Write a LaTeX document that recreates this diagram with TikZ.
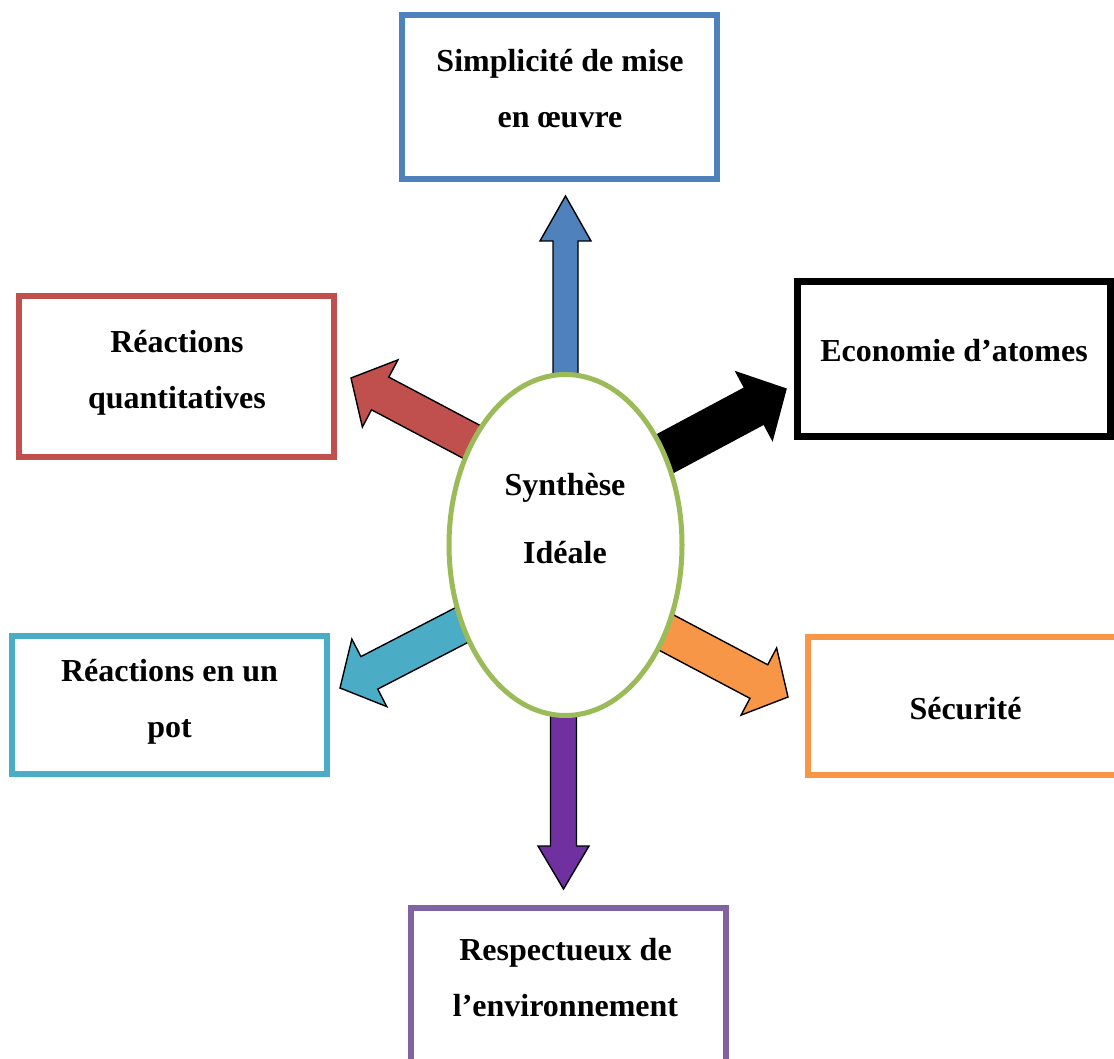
\documentclass[tikz,border=0pt]{standalone}
\usepackage{fontspec}
\setmainfont{Liberation Serif}
\usetikzlibrary{calc,shapes.geometric}
\definecolor{cblue}{HTML}{4F81BD}
\definecolor{cred}{HTML}{C0504D}
\definecolor{cteal}{HTML}{4BACC6}
\definecolor{corange}{HTML}{F79646}
\definecolor{cpurple}{HTML}{8064A2}
\definecolor{cpurplefill}{HTML}{7030A0}
\definecolor{cgreen}{HTML}{9BBB59}
\tikzset{
  boxnode/.style={draw, rectangle, line width=6pt, inner sep=0pt, fill=white},
  lbl/.style={font=\fontsize{32}{56}\selectfont\bfseries, align=center, anchor=base, inner sep=0pt},
  blockarr/.style={draw=black, line width=1.4pt, line join=miter}
}
% #1 tail, #2 tip, #3 half shaft width, #4 half head width, #5 head length, #6 fill
\newcommand\blockarrow[6]{%
  \path ($(#2)!#5!(#1)$) coordinate (hb);
  \draw[blockarr, fill=#6]
    ($(#1)!#3!90:(#2)$) -- ($(hb)!#3!90:(#2)$) -- ($(hb)!#4!90:(#2)$) -- (#2)
    -- ($(hb)!#4!-90:(#2)$) -- ($(hb)!#3!-90:(#2)$) -- ($(#1)!#3!-90:(#2)$) -- cycle;
}
\begin{document}
\begin{tikzpicture}[x=1pt, y=-1pt]
\clip (0,0) rectangle (1114,1059);
\fill[white] (0,0) rectangle (1114,1059);

% boxes
\node[boxnode, draw=cblue, minimum width=315pt, minimum height=164pt] (simp) at (559.5,97) {};
\node[boxnode, draw=cred, minimum width=315pt, minimum height=161pt] (reac) at (176.5,376.5) {};
\node[boxnode, draw=black, line width=7pt, minimum width=312.5pt, minimum height=155pt] (eco) at (953.75,359) {};
\node[boxnode, draw=cteal, minimum width=315pt, minimum height=138pt] (pot) at (169.5,705) {};
\node[boxnode, draw=corange, minimum width=315pt, minimum height=138pt] (secu) at (965.5,706) {};
\node[boxnode, draw=cpurple, minimum width=315pt, minimum height=164pt] (resp) at (568.5,990) {};

% arrow anchor points
\coordinate (bT) at (565.5,420);  \coordinate (bH) at (565.5,196);
\coordinate (rT) at (494.5,454);  \coordinate (rH) at (351,378);
\coordinate (kT) at (641,466.5);  \coordinate (kH) at (786,389);
\coordinate (tT) at (483.6,613.7);\coordinate (tH) at (340,688);
\coordinate (oT) at (644.5,621);  \coordinate (oH) at (788,697);
\coordinate (pT) at (563.5,680);  \coordinate (pH) at (563.5,889);

\blockarrow{bT}{bH}{12.5pt}{25.5pt}{45pt}{cblue}
\blockarrow{rT}{rH}{18.5pt}{38pt}{33pt}{cred}
\blockarrow{kT}{kH}{20.5pt}{38.5pt}{36pt}{black}
\blockarrow{tT}{tH}{18.3pt}{38pt}{33pt}{cteal}
\blockarrow{oT}{oH}{19pt}{38pt}{33pt}{corange}
\blockarrow{pT}{pH}{13pt}{25.5pt}{43pt}{cpurplefill}

% central ellipse
\node[draw=cgreen, line width=5pt, fill=white, ellipse, inner sep=0pt,
      minimum width=233pt, minimum height=341pt] (c) at (565.5,545) {};

% labels (anchor base = baseline of the last line)
\node[lbl] (simpT) at (560,128) {Simplicité de mise\\en œuvre};
\node[lbl] (reacT) at (177,408) {Réactions\\quantitatives};
\node[lbl] (ecoT) at (954,362) {Economie d’atomes};
\node[lbl] (potT) at (169.5,737) {Réactions en un\\pot};
\node[lbl] (secuT) at (965.5,719) {Sécurité};
\node[lbl] (respT) at (565.5,1016) {Respectueux de\\l’environnement};
\node[lbl, font=\fontsize{32}{68}\selectfont\bfseries] (cT) at (565,563) {Synthèse\\Idéale};
\end{tikzpicture}
\end{document}
